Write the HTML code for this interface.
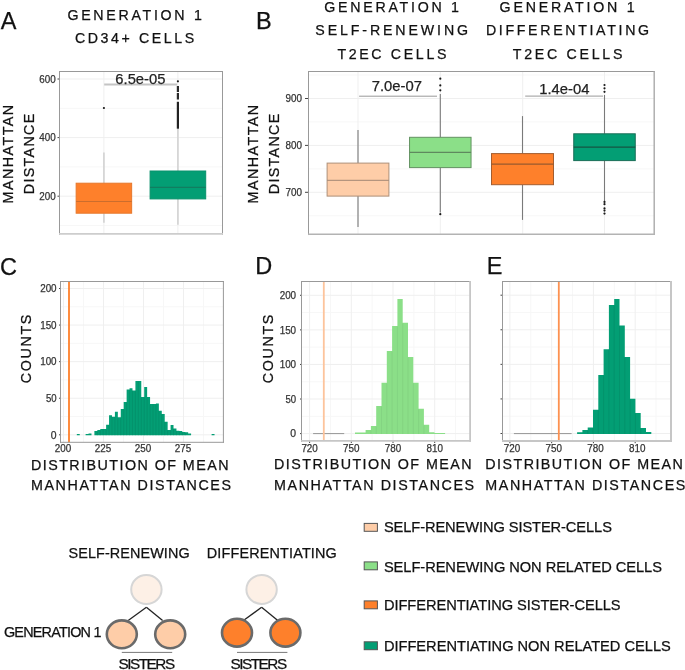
<!DOCTYPE html>
<html><head><meta charset="utf-8"><style>
html,body{margin:0;padding:0;background:#fff;overflow:hidden;width:685px;height:670px;}
svg{display:block;will-change:transform;}
text{font-family:"Liberation Sans", sans-serif;}
</style></head><body>
<svg width="685" height="670" viewBox="0 0 685 670">
<rect width="685" height="670" fill="#fff"/>
<text x="0.80" y="28.50" font-size="23.5" fill="#111111" stroke="#111111" stroke-width="0.25">A</text>
<text x="67.40" y="19.90" font-size="14.2" fill="#111111" stroke="#111111" stroke-width="0.25" textLength="134.40" lengthAdjust="spacing">GENERATION 1</text>
<text x="74.90" y="43.20" font-size="14.2" fill="#111111" stroke="#111111" stroke-width="0.25" textLength="119.30" lengthAdjust="spacing">CD34+ CELLS</text>
<line x1="59.50" y1="225.50" x2="222.50" y2="225.50" stroke="#f7f7f7" stroke-width="1"/>
<line x1="59.50" y1="166.90" x2="222.50" y2="166.90" stroke="#f7f7f7" stroke-width="1"/>
<line x1="59.50" y1="108.30" x2="222.50" y2="108.30" stroke="#f7f7f7" stroke-width="1"/>
<line x1="59.50" y1="196.20" x2="222.50" y2="196.20" stroke="#efefef" stroke-width="1"/>
<line x1="59.50" y1="137.60" x2="222.50" y2="137.60" stroke="#efefef" stroke-width="1"/>
<line x1="59.50" y1="79.00" x2="222.50" y2="79.00" stroke="#efefef" stroke-width="1"/>
<line x1="103.90" y1="71.50" x2="103.90" y2="233.80" stroke="#efefef" stroke-width="1"/>
<line x1="177.90" y1="71.50" x2="177.90" y2="233.80" stroke="#efefef" stroke-width="1"/>
<line x1="103.90" y1="152.50" x2="103.90" y2="183.20" stroke="#d6d6d6" stroke-width="1.8"/>
<line x1="103.90" y1="213.20" x2="103.90" y2="222.80" stroke="#d6d6d6" stroke-width="1.8"/>
<rect x="76.15" y="183.20" width="55.50" height="30.00" fill="#FE802B" stroke="#e6772c" stroke-width="1"/>
<line x1="76.15" y1="201.50" x2="131.65" y2="201.50" stroke="#cb6d2d" stroke-width="1.2"/>
<circle cx="103.90" cy="108.00" r="1.1" fill="#1a1a1a"/>
<line x1="177.90" y1="128.70" x2="177.90" y2="171.00" stroke="#d6d6d6" stroke-width="1.8"/>
<line x1="177.90" y1="198.90" x2="177.90" y2="224.80" stroke="#d6d6d6" stroke-width="1.8"/>
<rect x="150.10" y="171.00" width="55.60" height="27.90" fill="#039E74" stroke="#09916c" stroke-width="1"/>
<line x1="150.10" y1="187.30" x2="205.70" y2="187.30" stroke="#117e60" stroke-width="1.2"/>
<circle cx="177.90" cy="81.30" r="1.1" fill="#1a1a1a"/>
<rect x="176.80" y="86.00" width="2.20" height="6.00" fill="#2a2a2a"/>
<rect x="176.80" y="93.00" width="2.20" height="6.50" fill="#2a2a2a"/>
<rect x="176.80" y="101.80" width="2.20" height="26.90" fill="#222222"/>
<line x1="104.20" y1="84.60" x2="177.20" y2="84.60" stroke="#c4c4c4" stroke-width="2"/>
<text x="115.30" y="83.70" font-size="14.8" fill="#222" stroke="#222" stroke-width="0.25">6.5e-05</text>
<line x1="59.50" y1="71.00" x2="59.50" y2="234.70" stroke="#999999" stroke-width="1"/>
<line x1="59.00" y1="71.50" x2="223.00" y2="71.50" stroke="#999999" stroke-width="1"/>
<line x1="222.50" y1="71.00" x2="222.50" y2="234.70" stroke="#999999" stroke-width="1"/>
<line x1="59.00" y1="233.80" x2="223.00" y2="233.80" stroke="#cdcdcd" stroke-width="1.8"/>
<line x1="57.50" y1="196.20" x2="59.00" y2="196.20" stroke="#444444" stroke-width="1"/>
<text x="55.70" y="199.95" font-size="10.4" fill="#333333" stroke="#333333" stroke-width="0.25" text-anchor="end" textLength="16.44" lengthAdjust="spacingAndGlyphs">200</text>
<line x1="57.50" y1="137.60" x2="59.00" y2="137.60" stroke="#444444" stroke-width="1"/>
<text x="55.70" y="141.35" font-size="10.4" fill="#333333" stroke="#333333" stroke-width="0.25" text-anchor="end" textLength="16.44" lengthAdjust="spacingAndGlyphs">400</text>
<line x1="57.50" y1="79.00" x2="59.00" y2="79.00" stroke="#444444" stroke-width="1"/>
<text x="55.70" y="82.75" font-size="10.4" fill="#333333" stroke="#333333" stroke-width="0.25" text-anchor="end" textLength="16.44" lengthAdjust="spacingAndGlyphs">600</text>
<text x="13.30" y="203.40" font-size="14.3" fill="#111111" stroke="#111111" stroke-width="0.25" textLength="98.50" lengthAdjust="spacing" transform="rotate(-90 13.30 203.40)">MANHATTAN</text>
<text x="34.30" y="194.20" font-size="14.3" fill="#111111" stroke="#111111" stroke-width="0.25" textLength="80.50" lengthAdjust="spacing" transform="rotate(-90 34.30 194.20)">DISTANCE</text>
<text x="256.00" y="28.80" font-size="23.5" fill="#111111" stroke="#111111" stroke-width="0.25">B</text>
<text x="324.20" y="11.90" font-size="14.2" fill="#111111" stroke="#111111" stroke-width="0.25" textLength="134.80" lengthAdjust="spacing">GENERATION 1</text>
<text x="315.30" y="34.90" font-size="14.2" fill="#111111" stroke="#111111" stroke-width="0.25" textLength="152.80" lengthAdjust="spacing">SELF-RENEWING</text>
<text x="337.40" y="58.50" font-size="14.2" fill="#111111" stroke="#111111" stroke-width="0.25" textLength="109.00" lengthAdjust="spacing">T2EC CELLS</text>
<text x="499.60" y="11.90" font-size="14.2" fill="#111111" stroke="#111111" stroke-width="0.25" textLength="135.10" lengthAdjust="spacing">GENERATION 1</text>
<text x="485.90" y="34.90" font-size="14.2" fill="#111111" stroke="#111111" stroke-width="0.25" textLength="163.20" lengthAdjust="spacing">DIFFERENTIATING</text>
<text x="512.80" y="58.50" font-size="14.2" fill="#111111" stroke="#111111" stroke-width="0.25" textLength="109.60" lengthAdjust="spacing">T2EC CELLS</text>
<line x1="308.50" y1="215.75" x2="654.20" y2="215.75" stroke="#f7f7f7" stroke-width="1"/>
<line x1="308.50" y1="168.85" x2="654.20" y2="168.85" stroke="#f7f7f7" stroke-width="1"/>
<line x1="308.50" y1="121.95" x2="654.20" y2="121.95" stroke="#f7f7f7" stroke-width="1"/>
<line x1="308.50" y1="75.05" x2="654.20" y2="75.05" stroke="#f7f7f7" stroke-width="1"/>
<line x1="308.50" y1="192.30" x2="654.20" y2="192.30" stroke="#efefef" stroke-width="1"/>
<line x1="308.50" y1="145.40" x2="654.20" y2="145.40" stroke="#efefef" stroke-width="1"/>
<line x1="308.50" y1="98.50" x2="654.20" y2="98.50" stroke="#efefef" stroke-width="1"/>
<line x1="358.00" y1="71.50" x2="358.00" y2="234.30" stroke="#efefef" stroke-width="1"/>
<line x1="440.30" y1="71.50" x2="440.30" y2="234.30" stroke="#efefef" stroke-width="1"/>
<line x1="522.70" y1="71.50" x2="522.70" y2="234.30" stroke="#efefef" stroke-width="1"/>
<line x1="604.50" y1="71.50" x2="604.50" y2="234.30" stroke="#efefef" stroke-width="1"/>
<line x1="358.00" y1="129.90" x2="358.00" y2="163.10" stroke="#7a7a7a" stroke-width="1.1"/>
<line x1="358.00" y1="196.10" x2="358.00" y2="226.90" stroke="#7a7a7a" stroke-width="1.1"/>
<rect x="327.10" y="163.10" width="61.80" height="33.00" fill="#FECDA8" stroke="#ad8f79" stroke-width="1"/>
<line x1="327.10" y1="180.30" x2="388.90" y2="180.30" stroke="#a38873" stroke-width="1.0"/>
<line x1="440.30" y1="94.00" x2="440.30" y2="137.30" stroke="#7a7a7a" stroke-width="1.1"/>
<line x1="440.30" y1="167.60" x2="440.30" y2="212.40" stroke="#7a7a7a" stroke-width="1.1"/>
<rect x="409.55" y="137.30" width="61.50" height="30.30" fill="#8BDF88" stroke="#639262" stroke-width="1"/>
<line x1="409.55" y1="152.40" x2="471.05" y2="152.40" stroke="#5f895e" stroke-width="1.2"/>
<circle cx="440.30" cy="78.70" r="1.1" fill="#1a1a1a"/>
<circle cx="440.30" cy="85.40" r="1.1" fill="#1a1a1a"/>
<circle cx="440.30" cy="90.30" r="1.1" fill="#1a1a1a"/>
<circle cx="440.30" cy="214.20" r="1.1" fill="#1a1a1a"/>
<line x1="522.50" y1="116.10" x2="522.50" y2="153.60" stroke="#7a7a7a" stroke-width="1.1"/>
<line x1="522.50" y1="184.70" x2="522.50" y2="219.90" stroke="#7a7a7a" stroke-width="1.1"/>
<rect x="491.50" y="153.60" width="62.00" height="31.10" fill="#FE802B" stroke="#a35d2f" stroke-width="1"/>
<line x1="491.50" y1="164.20" x2="553.50" y2="164.20" stroke="#985a2f" stroke-width="1.2"/>
<line x1="604.50" y1="95.00" x2="604.50" y2="133.80" stroke="#7a7a7a" stroke-width="1.1"/>
<line x1="604.50" y1="160.60" x2="604.50" y2="201.20" stroke="#7a7a7a" stroke-width="1.1"/>
<rect x="573.75" y="133.80" width="61.50" height="26.80" fill="#039E74" stroke="#196e57" stroke-width="1"/>
<line x1="573.75" y1="147.20" x2="635.25" y2="147.20" stroke="#165443" stroke-width="1.2"/>
<circle cx="604.50" cy="85.00" r="1.1" fill="#1a1a1a"/>
<circle cx="604.50" cy="88.30" r="1.1" fill="#1a1a1a"/>
<circle cx="604.50" cy="91.80" r="1.1" fill="#1a1a1a"/>
<circle cx="604.50" cy="201.90" r="1.1" fill="#1a1a1a"/>
<circle cx="604.50" cy="204.20" r="1.1" fill="#1a1a1a"/>
<circle cx="604.50" cy="208.40" r="1.1" fill="#1a1a1a"/>
<circle cx="604.50" cy="210.60" r="1.1" fill="#1a1a1a"/>
<circle cx="604.50" cy="213.60" r="1.1" fill="#1a1a1a"/>
<line x1="359.10" y1="96.20" x2="437.00" y2="96.20" stroke="#999999" stroke-width="1"/>
<text x="371.70" y="90.60" font-size="14.8" fill="#222" stroke="#222" stroke-width="0.25">7.0e-07</text>
<line x1="525.20" y1="96.10" x2="603.00" y2="96.10" stroke="#999999" stroke-width="1"/>
<text x="539.20" y="93.50" font-size="14.8" fill="#222" stroke="#222" stroke-width="0.25">1.4e-04</text>
<line x1="308.50" y1="71.00" x2="308.50" y2="235.05" stroke="#999999" stroke-width="1"/>
<line x1="308.00" y1="71.50" x2="654.90" y2="71.50" stroke="#999999" stroke-width="1"/>
<line x1="654.20" y1="71.00" x2="654.20" y2="235.05" stroke="#aaaaaa" stroke-width="1.4"/>
<line x1="308.00" y1="234.30" x2="654.90" y2="234.30" stroke="#b3b3b3" stroke-width="1.5"/>
<line x1="305.00" y1="192.30" x2="308.00" y2="192.30" stroke="#444444" stroke-width="1"/>
<text x="302.00" y="196.05" font-size="10.4" fill="#333333" stroke="#333333" stroke-width="0.25" text-anchor="end" textLength="16.44" lengthAdjust="spacingAndGlyphs">700</text>
<line x1="305.00" y1="145.40" x2="308.00" y2="145.40" stroke="#444444" stroke-width="1"/>
<text x="302.00" y="149.15" font-size="10.4" fill="#333333" stroke="#333333" stroke-width="0.25" text-anchor="end" textLength="16.44" lengthAdjust="spacingAndGlyphs">800</text>
<line x1="305.00" y1="98.50" x2="308.00" y2="98.50" stroke="#444444" stroke-width="1"/>
<text x="302.00" y="102.25" font-size="10.4" fill="#333333" stroke="#333333" stroke-width="0.25" text-anchor="end" textLength="16.44" lengthAdjust="spacingAndGlyphs">900</text>
<text x="258.10" y="203.40" font-size="14.3" fill="#111111" stroke="#111111" stroke-width="0.25" textLength="98.50" lengthAdjust="spacing" transform="rotate(-90 258.10 203.40)">MANHATTAN</text>
<text x="278.70" y="194.20" font-size="14.3" fill="#111111" stroke="#111111" stroke-width="0.25" textLength="80.50" lengthAdjust="spacing" transform="rotate(-90 278.70 194.20)">DISTANCE</text>
<text x="0.00" y="274.60" font-size="23.5" fill="#111111" stroke="#111111" stroke-width="0.25">C</text>
<line x1="60.50" y1="416.51" x2="223.40" y2="416.51" stroke="#f7f7f7" stroke-width="1"/>
<line x1="60.50" y1="379.94" x2="223.40" y2="379.94" stroke="#f7f7f7" stroke-width="1"/>
<line x1="60.50" y1="343.36" x2="223.40" y2="343.36" stroke="#f7f7f7" stroke-width="1"/>
<line x1="60.50" y1="306.79" x2="223.40" y2="306.79" stroke="#f7f7f7" stroke-width="1"/>
<line x1="83.50" y1="281.50" x2="83.50" y2="442.30" stroke="#f7f7f7" stroke-width="1"/>
<line x1="123.50" y1="281.50" x2="123.50" y2="442.30" stroke="#f7f7f7" stroke-width="1"/>
<line x1="163.50" y1="281.50" x2="163.50" y2="442.30" stroke="#f7f7f7" stroke-width="1"/>
<line x1="203.50" y1="281.50" x2="203.50" y2="442.30" stroke="#f7f7f7" stroke-width="1"/>
<line x1="60.50" y1="434.80" x2="223.40" y2="434.80" stroke="#efefef" stroke-width="1"/>
<line x1="60.50" y1="398.23" x2="223.40" y2="398.23" stroke="#efefef" stroke-width="1"/>
<line x1="60.50" y1="361.65" x2="223.40" y2="361.65" stroke="#efefef" stroke-width="1"/>
<line x1="60.50" y1="325.07" x2="223.40" y2="325.07" stroke="#efefef" stroke-width="1"/>
<line x1="60.50" y1="288.50" x2="223.40" y2="288.50" stroke="#efefef" stroke-width="1"/>
<line x1="63.50" y1="281.50" x2="63.50" y2="442.30" stroke="#efefef" stroke-width="1"/>
<line x1="103.50" y1="281.50" x2="103.50" y2="442.30" stroke="#efefef" stroke-width="1"/>
<line x1="143.50" y1="281.50" x2="143.50" y2="442.30" stroke="#efefef" stroke-width="1"/>
<line x1="183.50" y1="281.50" x2="183.50" y2="442.30" stroke="#efefef" stroke-width="1"/>
<path d="M76.82,435.20 L76.82,434.00 L79.75,434.00 L79.75,435.20 Z M85.61,435.20 L85.61,434.00 L88.54,434.00 L88.54,433.50 L91.47,433.50 L91.47,435.20 Z M94.40,435.20 L94.40,431.00 L97.33,431.00 L97.33,430.00 L100.26,430.00 L100.26,429.00 L103.19,429.00 L103.19,429.00 L106.12,429.00 L106.12,424.80 L109.05,424.80 L109.05,415.20 L111.98,415.20 L111.98,416.70 L114.91,416.70 L114.91,411.80 L117.84,411.80 L117.84,417.30 L120.77,417.30 L120.77,408.90 L123.70,408.90 L123.70,402.00 L126.63,402.00 L126.63,389.50 L129.56,389.50 L129.56,388.30 L132.49,388.30 L132.49,390.40 L135.42,390.40 L135.42,381.00 L138.35,381.00 L138.35,381.00 L141.28,381.00 L141.28,397.00 L144.21,397.00 L144.21,386.90 L147.14,386.90 L147.14,397.00 L150.07,397.00 L150.07,404.00 L153.00,404.00 L153.00,404.00 L155.93,404.00 L155.93,403.40 L158.86,403.40 L158.86,410.80 L161.79,410.80 L161.79,413.90 L164.72,413.90 L164.72,421.70 L167.65,421.70 L167.65,430.10 L170.58,430.10 L170.58,425.00 L173.51,425.00 L173.51,428.50 L176.44,428.50 L176.44,430.70 L179.37,430.70 L179.37,431.00 L182.30,431.00 L182.30,432.00 L185.23,432.00 L185.23,432.30 L188.16,432.30 L188.16,433.50 L191.09,433.50 L191.09,435.20 Z M211.60,435.20 L211.60,434.00 L214.53,434.00 L214.53,435.20 Z" fill="#039E74"/>
<line x1="97.33" y1="431.50" x2="97.33" y2="435.20" stroke="#038b66" stroke-width="0.6"/>
<line x1="100.26" y1="430.50" x2="100.26" y2="435.20" stroke="#038b66" stroke-width="0.6"/>
<line x1="103.19" y1="429.50" x2="103.19" y2="435.20" stroke="#038b66" stroke-width="0.6"/>
<line x1="106.12" y1="429.50" x2="106.12" y2="435.20" stroke="#038b66" stroke-width="0.6"/>
<line x1="109.05" y1="425.30" x2="109.05" y2="435.20" stroke="#038b66" stroke-width="0.6"/>
<line x1="111.98" y1="417.20" x2="111.98" y2="435.20" stroke="#038b66" stroke-width="0.6"/>
<line x1="114.91" y1="417.20" x2="114.91" y2="435.20" stroke="#038b66" stroke-width="0.6"/>
<line x1="117.84" y1="417.80" x2="117.84" y2="435.20" stroke="#038b66" stroke-width="0.6"/>
<line x1="120.77" y1="417.80" x2="120.77" y2="435.20" stroke="#038b66" stroke-width="0.6"/>
<line x1="123.70" y1="409.40" x2="123.70" y2="435.20" stroke="#038b66" stroke-width="0.6"/>
<line x1="126.63" y1="402.50" x2="126.63" y2="435.20" stroke="#038b66" stroke-width="0.6"/>
<line x1="129.56" y1="390.00" x2="129.56" y2="435.20" stroke="#038b66" stroke-width="0.6"/>
<line x1="132.49" y1="390.90" x2="132.49" y2="435.20" stroke="#038b66" stroke-width="0.6"/>
<line x1="135.42" y1="390.90" x2="135.42" y2="435.20" stroke="#038b66" stroke-width="0.6"/>
<line x1="138.35" y1="381.50" x2="138.35" y2="435.20" stroke="#038b66" stroke-width="0.6"/>
<line x1="141.28" y1="397.50" x2="141.28" y2="435.20" stroke="#038b66" stroke-width="0.6"/>
<line x1="144.21" y1="397.50" x2="144.21" y2="435.20" stroke="#038b66" stroke-width="0.6"/>
<line x1="147.14" y1="397.50" x2="147.14" y2="435.20" stroke="#038b66" stroke-width="0.6"/>
<line x1="150.07" y1="404.50" x2="150.07" y2="435.20" stroke="#038b66" stroke-width="0.6"/>
<line x1="153.00" y1="404.50" x2="153.00" y2="435.20" stroke="#038b66" stroke-width="0.6"/>
<line x1="155.93" y1="404.50" x2="155.93" y2="435.20" stroke="#038b66" stroke-width="0.6"/>
<line x1="158.86" y1="411.30" x2="158.86" y2="435.20" stroke="#038b66" stroke-width="0.6"/>
<line x1="161.79" y1="414.40" x2="161.79" y2="435.20" stroke="#038b66" stroke-width="0.6"/>
<line x1="164.72" y1="422.20" x2="164.72" y2="435.20" stroke="#038b66" stroke-width="0.6"/>
<line x1="167.65" y1="430.60" x2="167.65" y2="435.20" stroke="#038b66" stroke-width="0.6"/>
<line x1="170.58" y1="430.60" x2="170.58" y2="435.20" stroke="#038b66" stroke-width="0.6"/>
<line x1="173.51" y1="429.00" x2="173.51" y2="435.20" stroke="#038b66" stroke-width="0.6"/>
<line x1="176.44" y1="431.20" x2="176.44" y2="435.20" stroke="#038b66" stroke-width="0.6"/>
<line x1="179.37" y1="431.50" x2="179.37" y2="435.20" stroke="#038b66" stroke-width="0.6"/>
<line x1="182.30" y1="432.50" x2="182.30" y2="435.20" stroke="#038b66" stroke-width="0.6"/>
<line x1="185.23" y1="432.80" x2="185.23" y2="435.20" stroke="#038b66" stroke-width="0.6"/>
<rect x="68.10" y="281.50" width="1.80" height="160.80" fill="#FE802B"/>
<line x1="60.50" y1="281.00" x2="60.50" y2="442.80" stroke="#999999" stroke-width="1"/>
<line x1="60.00" y1="281.50" x2="223.90" y2="281.50" stroke="#999999" stroke-width="1"/>
<line x1="223.40" y1="281.00" x2="223.40" y2="442.80" stroke="#999999" stroke-width="1"/>
<line x1="60.00" y1="442.30" x2="223.90" y2="442.30" stroke="#999999" stroke-width="1"/>
<line x1="59.00" y1="434.80" x2="60.00" y2="434.80" stroke="#444444" stroke-width="1"/>
<text x="56.60" y="438.55" font-size="10.4" fill="#333333" stroke="#333333" stroke-width="0.25" text-anchor="end">0</text>
<line x1="59.00" y1="398.23" x2="60.00" y2="398.23" stroke="#444444" stroke-width="1"/>
<text x="56.60" y="401.98" font-size="10.4" fill="#333333" stroke="#333333" stroke-width="0.25" text-anchor="end" textLength="10.66" lengthAdjust="spacingAndGlyphs">50</text>
<line x1="59.00" y1="361.65" x2="60.00" y2="361.65" stroke="#444444" stroke-width="1"/>
<text x="56.60" y="365.40" font-size="10.4" fill="#333333" stroke="#333333" stroke-width="0.25" text-anchor="end" textLength="16.44" lengthAdjust="spacingAndGlyphs">100</text>
<line x1="59.00" y1="325.07" x2="60.00" y2="325.07" stroke="#444444" stroke-width="1"/>
<text x="56.60" y="328.82" font-size="10.4" fill="#333333" stroke="#333333" stroke-width="0.25" text-anchor="end" textLength="16.44" lengthAdjust="spacingAndGlyphs">150</text>
<line x1="59.00" y1="288.50" x2="60.00" y2="288.50" stroke="#444444" stroke-width="1"/>
<text x="56.60" y="292.25" font-size="10.4" fill="#333333" stroke="#333333" stroke-width="0.25" text-anchor="end" textLength="16.44" lengthAdjust="spacingAndGlyphs">200</text>
<text x="62.90" y="452.20" font-size="10.4" fill="#333333" stroke="#333333" stroke-width="0.25" text-anchor="middle" textLength="16.44" lengthAdjust="spacingAndGlyphs">200</text>
<text x="102.90" y="452.20" font-size="10.4" fill="#333333" stroke="#333333" stroke-width="0.25" text-anchor="middle" textLength="16.44" lengthAdjust="spacingAndGlyphs">225</text>
<text x="142.90" y="452.20" font-size="10.4" fill="#333333" stroke="#333333" stroke-width="0.25" text-anchor="middle" textLength="16.44" lengthAdjust="spacingAndGlyphs">250</text>
<text x="182.90" y="452.20" font-size="10.4" fill="#333333" stroke="#333333" stroke-width="0.25" text-anchor="middle" textLength="16.44" lengthAdjust="spacingAndGlyphs">275</text>
<text x="30.60" y="383.20" font-size="14.3" fill="#111111" stroke="#111111" stroke-width="0.25" textLength="68.50" lengthAdjust="spacing" transform="rotate(-90 30.60 383.20)">COUNTS</text>
<text x="31.00" y="469.50" font-size="14.3" fill="#111111" stroke="#111111" stroke-width="0.25" textLength="197.50" lengthAdjust="spacing">DISTRIBUTION OF MEAN</text>
<text x="31.00" y="490.40" font-size="14.3" fill="#111111" stroke="#111111" stroke-width="0.25" textLength="200.00" lengthAdjust="spacing">MANHATTAN DISTANCES</text>
<text x="255.20" y="274.40" font-size="23.5" fill="#111111" stroke="#111111" stroke-width="0.25">D</text>
<line x1="301.50" y1="416.31" x2="470.10" y2="416.31" stroke="#f7f7f7" stroke-width="1"/>
<line x1="301.50" y1="381.74" x2="470.10" y2="381.74" stroke="#f7f7f7" stroke-width="1"/>
<line x1="301.50" y1="347.16" x2="470.10" y2="347.16" stroke="#f7f7f7" stroke-width="1"/>
<line x1="301.50" y1="312.59" x2="470.10" y2="312.59" stroke="#f7f7f7" stroke-width="1"/>
<line x1="330.45" y1="281.50" x2="330.45" y2="440.90" stroke="#f7f7f7" stroke-width="1"/>
<line x1="372.15" y1="281.50" x2="372.15" y2="440.90" stroke="#f7f7f7" stroke-width="1"/>
<line x1="413.85" y1="281.50" x2="413.85" y2="440.90" stroke="#f7f7f7" stroke-width="1"/>
<line x1="455.55" y1="281.50" x2="455.55" y2="440.90" stroke="#f7f7f7" stroke-width="1"/>
<line x1="301.50" y1="433.60" x2="470.10" y2="433.60" stroke="#efefef" stroke-width="1"/>
<line x1="301.50" y1="399.03" x2="470.10" y2="399.03" stroke="#efefef" stroke-width="1"/>
<line x1="301.50" y1="364.45" x2="470.10" y2="364.45" stroke="#efefef" stroke-width="1"/>
<line x1="301.50" y1="329.88" x2="470.10" y2="329.88" stroke="#efefef" stroke-width="1"/>
<line x1="301.50" y1="295.30" x2="470.10" y2="295.30" stroke="#efefef" stroke-width="1"/>
<line x1="309.60" y1="281.50" x2="309.60" y2="440.90" stroke="#efefef" stroke-width="1"/>
<line x1="351.30" y1="281.50" x2="351.30" y2="440.90" stroke="#efefef" stroke-width="1"/>
<line x1="393.00" y1="281.50" x2="393.00" y2="440.90" stroke="#efefef" stroke-width="1"/>
<line x1="434.70" y1="281.50" x2="434.70" y2="440.90" stroke="#efefef" stroke-width="1"/>
<line x1="313.10" y1="433.60" x2="344.20" y2="433.60" stroke="#959595" stroke-width="1"/>
<path d="M355.00,434.00 L355.00,432.60 L360.30,432.60 L360.30,432.60 L365.60,432.60 L365.60,430.00 L370.90,430.00 L370.90,426.00 L376.20,426.00 L376.20,406.10 L381.50,406.10 L381.50,382.80 L386.80,382.80 L386.80,351.00 L392.10,351.00 L392.10,326.00 L397.40,326.00 L397.40,299.10 L402.70,299.10 L402.70,322.80 L408.00,322.80 L408.00,357.00 L413.30,357.00 L413.30,382.80 L418.60,382.80 L418.60,408.70 L423.90,408.70 L423.90,424.70 L429.20,424.70 L429.20,432.30 L434.50,432.30 L434.50,433.00 L439.80,433.00 L439.80,433.00 L445.10,433.00 L445.10,434.00 Z" fill="#8BDF88"/>
<line x1="370.90" y1="430.50" x2="370.90" y2="434.00" stroke="#80cd7d" stroke-width="0.6"/>
<line x1="376.20" y1="426.50" x2="376.20" y2="434.00" stroke="#80cd7d" stroke-width="0.6"/>
<line x1="381.50" y1="406.60" x2="381.50" y2="434.00" stroke="#80cd7d" stroke-width="0.6"/>
<line x1="386.80" y1="383.30" x2="386.80" y2="434.00" stroke="#80cd7d" stroke-width="0.6"/>
<line x1="392.10" y1="351.50" x2="392.10" y2="434.00" stroke="#80cd7d" stroke-width="0.6"/>
<line x1="397.40" y1="326.50" x2="397.40" y2="434.00" stroke="#80cd7d" stroke-width="0.6"/>
<line x1="402.70" y1="323.30" x2="402.70" y2="434.00" stroke="#80cd7d" stroke-width="0.6"/>
<line x1="408.00" y1="357.50" x2="408.00" y2="434.00" stroke="#80cd7d" stroke-width="0.6"/>
<line x1="413.30" y1="383.30" x2="413.30" y2="434.00" stroke="#80cd7d" stroke-width="0.6"/>
<line x1="418.60" y1="409.20" x2="418.60" y2="434.00" stroke="#80cd7d" stroke-width="0.6"/>
<line x1="423.90" y1="425.20" x2="423.90" y2="434.00" stroke="#80cd7d" stroke-width="0.6"/>
<rect x="322.90" y="281.50" width="1.80" height="159.40" fill="#FDC49C"/>
<line x1="301.50" y1="281.00" x2="301.50" y2="441.80" stroke="#999999" stroke-width="1"/>
<line x1="301.00" y1="281.50" x2="471.00" y2="281.50" stroke="#999999" stroke-width="1"/>
<line x1="470.10" y1="281.00" x2="470.10" y2="441.80" stroke="#c6c6c6" stroke-width="1.8"/>
<line x1="301.00" y1="440.90" x2="471.00" y2="440.90" stroke="#c6c6c6" stroke-width="1.8"/>
<line x1="300.00" y1="433.60" x2="301.00" y2="433.60" stroke="#444444" stroke-width="1"/>
<text x="296.10" y="437.35" font-size="10.4" fill="#333333" stroke="#333333" stroke-width="0.25" text-anchor="end">0</text>
<line x1="300.00" y1="399.03" x2="301.00" y2="399.03" stroke="#444444" stroke-width="1"/>
<text x="296.10" y="402.78" font-size="10.4" fill="#333333" stroke="#333333" stroke-width="0.25" text-anchor="end" textLength="10.66" lengthAdjust="spacingAndGlyphs">50</text>
<line x1="300.00" y1="364.45" x2="301.00" y2="364.45" stroke="#444444" stroke-width="1"/>
<text x="296.10" y="368.20" font-size="10.4" fill="#333333" stroke="#333333" stroke-width="0.25" text-anchor="end" textLength="16.44" lengthAdjust="spacingAndGlyphs">100</text>
<line x1="300.00" y1="329.88" x2="301.00" y2="329.88" stroke="#444444" stroke-width="1"/>
<text x="296.10" y="333.62" font-size="10.4" fill="#333333" stroke="#333333" stroke-width="0.25" text-anchor="end" textLength="16.44" lengthAdjust="spacingAndGlyphs">150</text>
<line x1="300.00" y1="295.30" x2="301.00" y2="295.30" stroke="#444444" stroke-width="1"/>
<text x="296.10" y="299.05" font-size="10.4" fill="#333333" stroke="#333333" stroke-width="0.25" text-anchor="end" textLength="16.44" lengthAdjust="spacingAndGlyphs">200</text>
<line x1="309.60" y1="441.80" x2="309.60" y2="443.00" stroke="#444444" stroke-width="1"/>
<text x="309.60" y="452.00" font-size="10.4" fill="#333333" stroke="#333333" stroke-width="0.25" text-anchor="middle" textLength="16.44" lengthAdjust="spacingAndGlyphs">720</text>
<line x1="351.30" y1="441.80" x2="351.30" y2="443.00" stroke="#444444" stroke-width="1"/>
<text x="351.30" y="452.00" font-size="10.4" fill="#333333" stroke="#333333" stroke-width="0.25" text-anchor="middle" textLength="16.44" lengthAdjust="spacingAndGlyphs">750</text>
<line x1="393.00" y1="441.80" x2="393.00" y2="443.00" stroke="#444444" stroke-width="1"/>
<text x="393.00" y="452.00" font-size="10.4" fill="#333333" stroke="#333333" stroke-width="0.25" text-anchor="middle" textLength="16.44" lengthAdjust="spacingAndGlyphs">780</text>
<line x1="434.70" y1="441.80" x2="434.70" y2="443.00" stroke="#444444" stroke-width="1"/>
<text x="434.70" y="452.00" font-size="10.4" fill="#333333" stroke="#333333" stroke-width="0.25" text-anchor="middle" textLength="16.44" lengthAdjust="spacingAndGlyphs">810</text>
<text x="273.30" y="383.20" font-size="14.3" fill="#111111" stroke="#111111" stroke-width="0.25" textLength="68.50" lengthAdjust="spacing" transform="rotate(-90 273.30 383.20)">COUNTS</text>
<text x="274.10" y="469.40" font-size="14.3" fill="#111111" stroke="#111111" stroke-width="0.25" textLength="197.50" lengthAdjust="spacing">DISTRIBUTION OF MEAN</text>
<text x="274.10" y="490.10" font-size="14.3" fill="#111111" stroke="#111111" stroke-width="0.25" textLength="200.00" lengthAdjust="spacing">MANHATTAN DISTANCES</text>
<text x="486.80" y="274.20" font-size="23.5" fill="#111111" stroke="#111111" stroke-width="0.25">E</text>
<line x1="502.50" y1="416.21" x2="671.00" y2="416.21" stroke="#f7f7f7" stroke-width="1"/>
<line x1="502.50" y1="381.64" x2="671.00" y2="381.64" stroke="#f7f7f7" stroke-width="1"/>
<line x1="502.50" y1="347.06" x2="671.00" y2="347.06" stroke="#f7f7f7" stroke-width="1"/>
<line x1="502.50" y1="312.49" x2="671.00" y2="312.49" stroke="#f7f7f7" stroke-width="1"/>
<line x1="530.78" y1="281.50" x2="530.78" y2="441.00" stroke="#f7f7f7" stroke-width="1"/>
<line x1="572.54" y1="281.50" x2="572.54" y2="441.00" stroke="#f7f7f7" stroke-width="1"/>
<line x1="614.30" y1="281.50" x2="614.30" y2="441.00" stroke="#f7f7f7" stroke-width="1"/>
<line x1="656.06" y1="281.50" x2="656.06" y2="441.00" stroke="#f7f7f7" stroke-width="1"/>
<line x1="502.50" y1="433.50" x2="671.00" y2="433.50" stroke="#efefef" stroke-width="1"/>
<line x1="502.50" y1="398.93" x2="671.00" y2="398.93" stroke="#efefef" stroke-width="1"/>
<line x1="502.50" y1="364.35" x2="671.00" y2="364.35" stroke="#efefef" stroke-width="1"/>
<line x1="502.50" y1="329.77" x2="671.00" y2="329.77" stroke="#efefef" stroke-width="1"/>
<line x1="502.50" y1="295.20" x2="671.00" y2="295.20" stroke="#efefef" stroke-width="1"/>
<line x1="509.90" y1="281.50" x2="509.90" y2="441.00" stroke="#efefef" stroke-width="1"/>
<line x1="551.66" y1="281.50" x2="551.66" y2="441.00" stroke="#efefef" stroke-width="1"/>
<line x1="593.42" y1="281.50" x2="593.42" y2="441.00" stroke="#efefef" stroke-width="1"/>
<line x1="635.18" y1="281.50" x2="635.18" y2="441.00" stroke="#efefef" stroke-width="1"/>
<line x1="513.90" y1="433.60" x2="571.60" y2="433.60" stroke="#959595" stroke-width="1"/>
<path d="M577.10,433.90 L577.10,432.20 L582.40,432.20 L582.40,430.10 L587.70,430.10 L587.70,427.50 L593.00,427.50 L593.00,409.70 L598.30,409.70 L598.30,375.00 L603.60,375.00 L603.60,349.20 L608.90,349.20 L608.90,305.00 L614.20,305.00 L614.20,299.00 L619.50,299.00 L619.50,325.50 L624.80,325.50 L624.80,357.00 L630.10,357.00 L630.10,398.70 L635.40,398.70 L635.40,413.00 L640.70,413.00 L640.70,428.10 L646.00,428.10 L646.00,431.90 L651.30,431.90 L651.30,433.90 Z" fill="#039E74"/>
<line x1="587.70" y1="430.60" x2="587.70" y2="433.90" stroke="#038b66" stroke-width="0.6"/>
<line x1="593.00" y1="428.00" x2="593.00" y2="433.90" stroke="#038b66" stroke-width="0.6"/>
<line x1="598.30" y1="410.20" x2="598.30" y2="433.90" stroke="#038b66" stroke-width="0.6"/>
<line x1="603.60" y1="375.50" x2="603.60" y2="433.90" stroke="#038b66" stroke-width="0.6"/>
<line x1="608.90" y1="349.70" x2="608.90" y2="433.90" stroke="#038b66" stroke-width="0.6"/>
<line x1="614.20" y1="305.50" x2="614.20" y2="433.90" stroke="#038b66" stroke-width="0.6"/>
<line x1="619.50" y1="326.00" x2="619.50" y2="433.90" stroke="#038b66" stroke-width="0.6"/>
<line x1="624.80" y1="357.50" x2="624.80" y2="433.90" stroke="#038b66" stroke-width="0.6"/>
<line x1="630.10" y1="399.20" x2="630.10" y2="433.90" stroke="#038b66" stroke-width="0.6"/>
<line x1="635.40" y1="413.50" x2="635.40" y2="433.90" stroke="#038b66" stroke-width="0.6"/>
<line x1="640.70" y1="428.60" x2="640.70" y2="433.90" stroke="#038b66" stroke-width="0.6"/>
<rect x="557.90" y="281.50" width="1.80" height="158.50" fill="#FD9150"/>
<line x1="502.50" y1="281.00" x2="502.50" y2="442.00" stroke="#999999" stroke-width="1"/>
<line x1="502.00" y1="281.50" x2="672.00" y2="281.50" stroke="#999999" stroke-width="1"/>
<line x1="671.00" y1="281.00" x2="671.00" y2="442.00" stroke="#c6c6c6" stroke-width="2"/>
<line x1="502.00" y1="441.00" x2="672.00" y2="441.00" stroke="#c6c6c6" stroke-width="2"/>
<line x1="500.50" y1="433.50" x2="502.00" y2="433.50" stroke="#444444" stroke-width="1"/>
<line x1="500.50" y1="398.93" x2="502.00" y2="398.93" stroke="#444444" stroke-width="1"/>
<line x1="500.50" y1="364.35" x2="502.00" y2="364.35" stroke="#444444" stroke-width="1"/>
<line x1="500.50" y1="329.77" x2="502.00" y2="329.77" stroke="#444444" stroke-width="1"/>
<line x1="500.50" y1="295.20" x2="502.00" y2="295.20" stroke="#444444" stroke-width="1"/>
<line x1="509.90" y1="442.00" x2="509.90" y2="443.20" stroke="#444444" stroke-width="1"/>
<text x="511.90" y="452.00" font-size="10.4" fill="#333333" stroke="#333333" stroke-width="0.25" text-anchor="middle" textLength="16.44" lengthAdjust="spacingAndGlyphs">720</text>
<line x1="551.66" y1="442.00" x2="551.66" y2="443.20" stroke="#444444" stroke-width="1"/>
<text x="553.66" y="452.00" font-size="10.4" fill="#333333" stroke="#333333" stroke-width="0.25" text-anchor="middle" textLength="16.44" lengthAdjust="spacingAndGlyphs">750</text>
<line x1="593.42" y1="442.00" x2="593.42" y2="443.20" stroke="#444444" stroke-width="1"/>
<text x="595.42" y="452.00" font-size="10.4" fill="#333333" stroke="#333333" stroke-width="0.25" text-anchor="middle" textLength="16.44" lengthAdjust="spacingAndGlyphs">780</text>
<line x1="635.18" y1="442.00" x2="635.18" y2="443.20" stroke="#444444" stroke-width="1"/>
<text x="637.18" y="452.00" font-size="10.4" fill="#333333" stroke="#333333" stroke-width="0.25" text-anchor="middle" textLength="16.44" lengthAdjust="spacingAndGlyphs">810</text>
<text x="485.30" y="469.40" font-size="14.3" fill="#111111" stroke="#111111" stroke-width="0.25" textLength="197.50" lengthAdjust="spacing">DISTRIBUTION OF MEAN</text>
<text x="485.30" y="490.10" font-size="14.3" fill="#111111" stroke="#111111" stroke-width="0.25" textLength="200.00" lengthAdjust="spacing">MANHATTAN DISTANCES</text>
<text x="68.60" y="558.40" font-size="14.4" fill="#111111" stroke="#111111" stroke-width="0.25" textLength="121.00" lengthAdjust="spacing">SELF-RENEWING</text>
<text x="206.80" y="558.40" font-size="14.4" fill="#111111" stroke="#111111" stroke-width="0.25" textLength="130.00" lengthAdjust="spacing">DIFFERENTIATING</text>
<text x="3.90" y="636.80" font-size="14.4" fill="#111111" stroke="#111111" stroke-width="0.25" textLength="97.50" lengthAdjust="spacing">GENERATION 1</text>
<ellipse cx="146.40" cy="589.50" rx="15.2" ry="14.4" fill="#FDF0E6" stroke="#d6d6d6" stroke-width="2.0"/>
<line x1="146.40" y1="607.30" x2="128.20" y2="620.60" stroke="#222222" stroke-width="1.3"/>
<line x1="146.40" y1="607.30" x2="162.60" y2="620.60" stroke="#222222" stroke-width="1.3"/>
<ellipse cx="121.80" cy="634.30" rx="15.0" ry="13.9" fill="#FECDA8" stroke="#6a6a6a" stroke-width="2.6"/>
<ellipse cx="170.20" cy="634.30" rx="15.0" ry="13.9" fill="#FECDA8" stroke="#6a6a6a" stroke-width="2.6"/>
<line x1="121.80" y1="652.40" x2="172.20" y2="652.40" stroke="#777777" stroke-width="1"/>
<ellipse cx="261.60" cy="589.50" rx="15.2" ry="14.4" fill="#FDF0E6" stroke="#d6d6d6" stroke-width="2.0"/>
<line x1="261.60" y1="607.30" x2="243.40" y2="620.60" stroke="#222222" stroke-width="1.3"/>
<line x1="261.60" y1="607.30" x2="277.80" y2="620.60" stroke="#222222" stroke-width="1.3"/>
<ellipse cx="237.00" cy="632.70" rx="15.0" ry="13.9" fill="#FE802B" stroke="#6a6a6a" stroke-width="2.6"/>
<ellipse cx="285.40" cy="632.70" rx="15.0" ry="13.9" fill="#FE802B" stroke="#6a6a6a" stroke-width="2.6"/>
<line x1="237.00" y1="652.40" x2="287.40" y2="652.40" stroke="#777777" stroke-width="1"/>
<text x="118.50" y="669.30" font-size="15.3" fill="#111111" stroke="#111111" stroke-width="0.25" textLength="56.60" lengthAdjust="spacing">SISTERS</text>
<text x="230.50" y="669.30" font-size="15.3" fill="#111111" stroke="#111111" stroke-width="0.25" textLength="56.60" lengthAdjust="spacing">SISTERS</text>
<rect x="364.20" y="523.40" width="13.20" height="7.90" fill="#FECDA8" stroke="#555555" stroke-width="1"/>
<text x="383.90" y="532.10" font-size="14.65" fill="#111111" stroke="#111111" stroke-width="0.25" textLength="228.00" lengthAdjust="spacing">SELF-RENEWING SISTER-CELLS</text>
<rect x="364.20" y="561.90" width="13.20" height="7.90" fill="#8BDF88" stroke="#555555" stroke-width="1"/>
<text x="383.90" y="571.50" font-size="14.65" fill="#111111" stroke="#111111" stroke-width="0.25" textLength="278.00" lengthAdjust="spacing">SELF-RENEWING NON RELATED CELLS</text>
<rect x="364.20" y="600.90" width="13.20" height="7.90" fill="#FE802B" stroke="#555555" stroke-width="1"/>
<text x="383.90" y="610.00" font-size="14.65" fill="#111111" stroke="#111111" stroke-width="0.25" textLength="236.70" lengthAdjust="spacing">DIFFERENTIATING SISTER-CELLS</text>
<rect x="364.20" y="641.80" width="13.20" height="7.90" fill="#039E74" stroke="#555555" stroke-width="1"/>
<text x="383.90" y="650.70" font-size="14.65" fill="#111111" stroke="#111111" stroke-width="0.25" textLength="286.90" lengthAdjust="spacing">DIFFERENTIATING NON RELATED CELLS</text>
</svg></body></html>
